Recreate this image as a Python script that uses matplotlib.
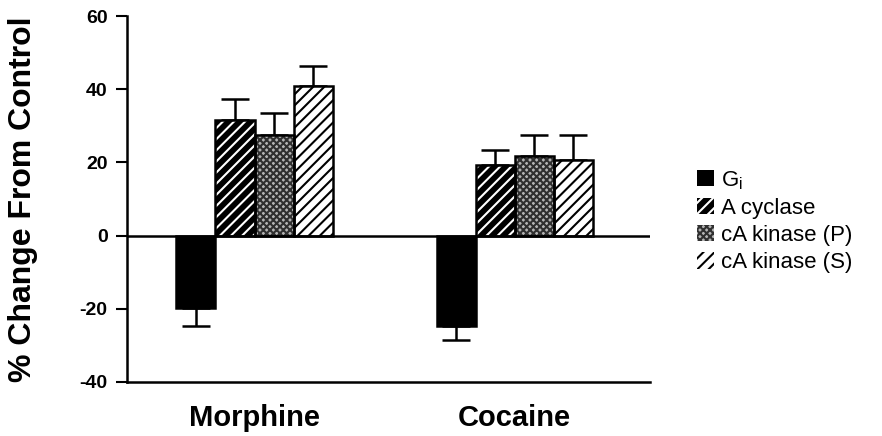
import matplotlib
matplotlib.use("Agg")
import matplotlib.pyplot as plt
import numpy as np
from matplotlib.patches import Patch

plt.rcParams['font.family'] = ['Liberation Sans', 'DejaVu Sans']
plt.rcParams['hatch.linewidth'] = 1.5

groups = ["Morphine", "Cocaine"]
series = ["G$_{\\mathregular{i}}$", "A cyclase", "cA kinase (P)", "cA kinase (S)"]
values = {
    "Gi": [-19.9, -24.8],
    "A cyclase": [31.5, 19.2],
    "cA kinase (P)": [27.6, 21.9],
    "cA kinase (S)": [40.8, 20.6],
}
errors = {
    "Gi": [4.7, 3.8],
    "A cyclase": [5.8, 4.3],
    "cA kinase (P)": [6.0, 5.7],
    "cA kinase (S)": [5.6, 7.0],
}
yticks = [-40, -20, 0, 20, 40, 60]

fig = plt.figure(figsize=(8.82, 4.36), dpi=100)
ax = fig.add_axes([0.144, 0.124, 0.593, 0.839])

keys = list(values.keys())
width = 0.15
x = np.arange(len(groups))
styles = [
    dict(face="black", hatch=None, hcol="black"),
    dict(face="black", hatch="///", hcol="white"),
    dict(face="#b5b5b5", hatch="xxxxx", hcol="#303030"),
    dict(face="white", hatch="///", hcol="black"),
]
handles = []
for i, k in enumerate(keys):
    pos = x + (i - 1.5) * width
    v = np.array(values[k])
    e = np.array(errors[k])
    st = styles[i]
    ax.bar(pos, v, width, color=st["face"], edgecolor=st["hcol"], hatch=st["hatch"],
           linewidth=0, zorder=2)
    ax.bar(pos, v, width, fill=False, edgecolor="black", linewidth=1.8, zorder=3)
    lower = np.where(v < 0, e, 0)
    upper = np.where(v > 0, e, 0)
    ax.errorbar(pos, v, yerr=[lower, upper], fmt="none", ecolor="black",
                elinewidth=1.8, capsize=10, capthick=1.8, zorder=1)
    handles.append(Patch(facecolor=st["face"], edgecolor=st["hcol"], hatch=st["hatch"],
                         linewidth=0))

ax.axhline(0, color="black", linewidth=1.8, zorder=4)
ax.set_xlim(-0.49, 1.52)
ax.set_ylim(-40, 60)
ax.set_yticks(yticks)
ax.set_yticklabels([str(t) for t in yticks], fontweight="bold", fontsize=14)
ax.set_xticks(x)
ax.set_xticklabels(groups, fontweight="bold", fontsize=21)
ax.tick_params(axis="x", length=0, pad=16)
ax.tick_params(axis="y", direction="out", length=8, width=1.5, pad=6)
for s in ["top", "right"]:
    ax.spines[s].set_visible(False)
for s in ["left", "bottom"]:
    ax.spines[s].set_linewidth(1.8)
ax.set_ylabel("% Change From Control", fontweight="bold", fontsize=23, labelpad=30)

leg = fig.legend(handles, series, loc="center left", bbox_to_anchor=(0.780, 0.493),
                 frameon=False, fontsize=16, handlelength=0.75, handleheight=0.75,
                 handletextpad=0.32, labelspacing=0.28, borderaxespad=0)
for p in leg.get_patches():
    p.set_linewidth(0)

fig.savefig("out.png", dpi=100)
